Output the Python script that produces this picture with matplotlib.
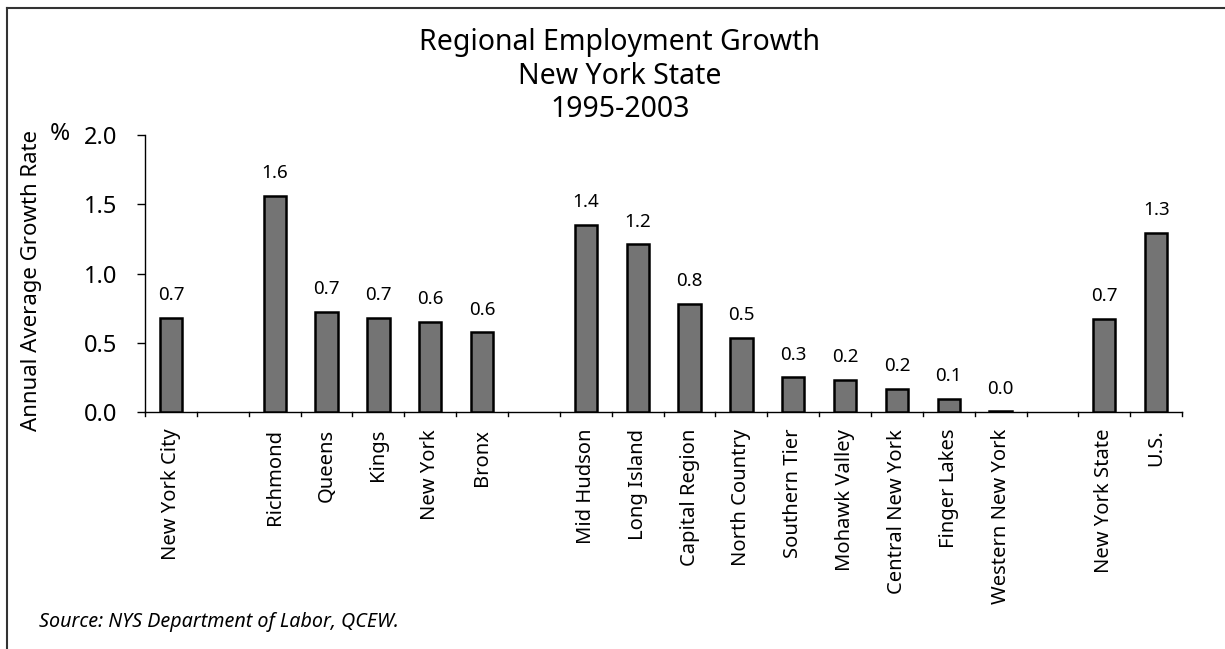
import matplotlib
matplotlib.use("Agg")
import matplotlib.pyplot as plt
from matplotlib.lines import Line2D

plt.rcParams['font.family'] = ['Noto Sans', 'DejaVu Sans']

categories = ["New York City", "Richmond", "Queens", "Kings", "New York", "Bronx",
              "Mid Hudson", "Long Island", "Capital Region", "North Country",
              "Southern Tier", "Mohawk Valley", "Central New York", "Finger Lakes",
              "Western New York", "New York State", "U.S."]
slots = [0, 2, 3, 4, 5, 6, 8, 9, 10, 11, 12, 13, 14, 15, 16, 18, 19]
values = [0.68, 1.56, 0.72, 0.68, 0.65, 0.575, 1.35, 1.21, 0.78, 0.535,
          0.25, 0.23, 0.165, 0.095, 0.005, 0.675, 1.29]
labels = ["0.7", "1.6", "0.7", "0.7", "0.6", "0.6", "1.4", "1.2", "0.8", "0.5",
          "0.3", "0.2", "0.2", "0.1", "0.0", "0.7", "1.3"]
yticks = [0.0, 0.5, 1.0, 1.5, 2.0]

fig = plt.figure(figsize=(12.25, 6.49), dpi=100)
ax = fig.add_axes([0.1184, 0.365, 0.8466, 0.427])

ax.bar(slots, values, width=0.43, color='#747474', edgecolor='black', linewidth=1.8, zorder=3)
for s, v, l in zip(slots, values, labels):
    ax.annotate(l, (s, v), xytext=(0, 10), textcoords='offset points',
                ha='center', va='bottom', fontsize=13.5)

ax.set_xlim(-0.5, 19.5)
ax.set_ylim(0, 2.0)
ax.set_yticks(yticks)
ax.set_yticklabels([f"{t:.1f}" for t in yticks], fontsize=17)
ax.set_xticks(slots)
ax.set_xticklabels(categories, rotation=90, fontsize=14.5)
ax.tick_params(axis='x', length=0, pad=12)
ax.tick_params(axis='y', length=6, width=1, direction='out', pad=14)
# boundary ticks along the bottom axis
for b in range(21):
    ax.plot([b - 0.5, b - 0.5], [0, -0.025], color='black', lw=1, clip_on=False,
            transform=ax.transData)
ax.spines['top'].set_visible(False)
ax.spines['right'].set_visible(False)
ax.spines['left'].set_linewidth(1)
ax.spines['bottom'].set_linewidth(1)

fig.text(0.026, 0.568, "Annual Average Growth Rate", fontsize=16, rotation=90,
         ha='center', va='center')
fig.text(0.041, 0.794, "%", fontsize=17.5, ha='left', va='center')

fig.text(0.506, 0.934, "Regional Employment Growth", ha='center', va='center', fontsize=20.5)
fig.text(0.506, 0.882, "New York State", ha='center', va='center', fontsize=20.5)
fig.text(0.506, 0.831, "1995-2003", ha='center', va='center', fontsize=20.5)

fig.text(0.032, 0.041, "Source: NYS Department of Labor, QCEW.", ha='left', va='center',
         fontsize=14.2, style='italic')

# frame lines (top and left)
fig.add_artist(Line2D([0.0057, 1.0], [0.988, 0.988], color='#333333', lw=1.5, transform=fig.transFigure))
fig.add_artist(Line2D([0.0057, 0.0057], [0.0, 0.988], color='#333333', lw=1.5, transform=fig.transFigure))

fig.savefig("out.png", dpi=100)
